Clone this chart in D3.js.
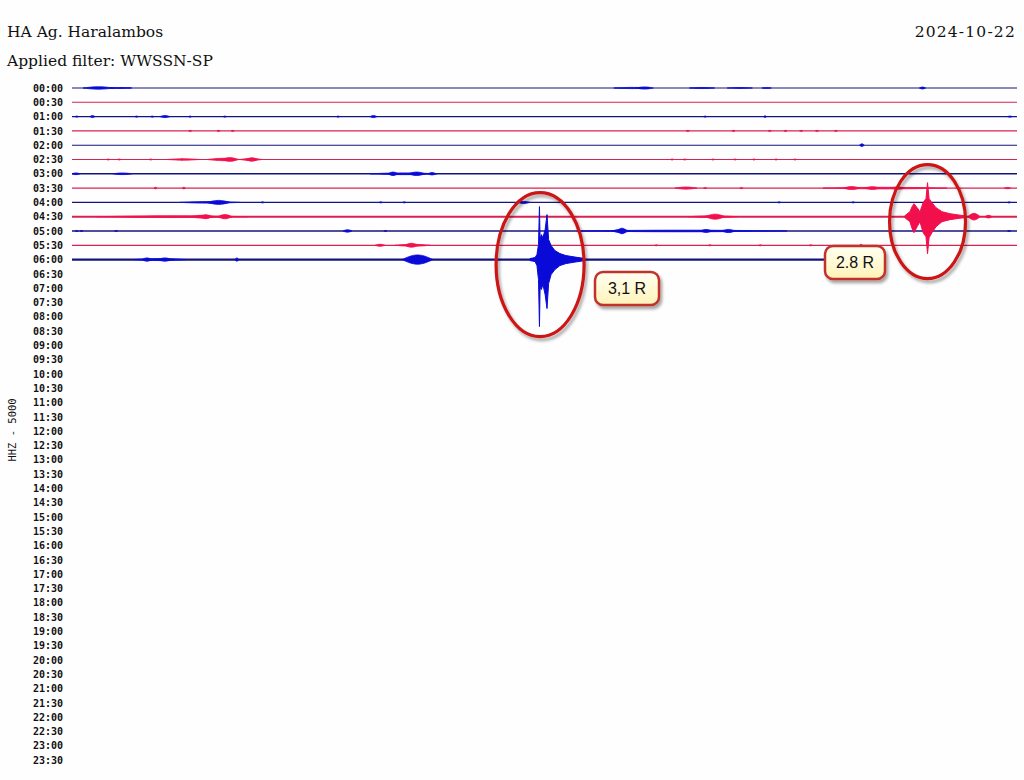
<!DOCTYPE html>
<html>
<head>
<meta charset="utf-8">
<script src="https://cdn.jsdelivr.net/npm/d3@7"></script>
<style>
    body { margin: 0; background: #ffffff; }
    svg { display: block; }
</style>
</head>
<body>
<div id="heli"></div>
<script>

// rows of the helicorder, 30 min each
var rowLabels = [];
for (var h = 0; h < 24; h++) {
    var hh = (h < 10 ? '0' : '') + h;
    rowLabels.push(hh + ':00');
    rowLabels.push(hh + ':30');
}

// recorded rows only (00:00 .. 06:00), minutes covered per row
var rowEnd = [30, 30, 30, 30, 30, 30, 30, 30, 30, 30, 30, 30, 25.5];
// background noise amplitude of each recorded row
var rowNoise = [0.1, 0.1, 0.2, 0.1, 0.1, 0.2, 0.6, 0.1, 0.2, 1.0, 0.4, 0.2, 1.2];

// bursts per row: [start minute, end minute, amplitude]
var bursts = [
    [[0.35, 1.33, 1.8], [1.2, 1.6, 0.8], [1.5, 1.75, 0.7], [1.7, 1.9, 0.7], [17.2, 18.35, 0.9], [17.9, 18.45, 1.6], [19.6, 20.4, 0.8], [20.8, 21.6, 0.7], [21.9, 22.2, 0.8], [26.9, 27.1, 1.5]],
    [],
    [[0.1, 0.2, 0.8], [0.57, 0.73, 1.5], [2.0, 2.1, 0.8], [2.5, 2.6, 0.8], [2.79, 3.11, 1.5], [3.7, 3.8, 0.8], [4.8, 4.9, 0.8], [8.4, 8.5, 0.8], [9.46, 9.68, 1.5], [20.05, 20.15, 0.8], [21.95, 22.05, 1.2], [29.7, 29.85, 0.8]],
    [[3.7, 3.8, 0.8], [4.6, 4.7, 0.8], [5.05, 5.15, 0.8], [19.5, 19.6, 0.8], [20.95, 21.05, 0.8], [22.1, 22.2, 0.8], [22.6, 22.7, 0.8], [23.1, 23.2, 0.8], [23.6, 23.7, 0.8], [24.2, 24.3, 0.8]],
    [[25.0, 25.15, 2.0]],
    [[1.1, 1.2, 0.8], [1.45, 1.55, 0.8], [2.45, 2.55, 0.8], [3.02, 4.06, 1.0], [3.45, 3.55, 0.8], [4.29, 5.33, 1.8], [4.76, 5.27, 2.8], [5.33, 6.03, 1.6], [5.52, 5.9, 2.6], [19.0, 19.1, 0.8], [19.4, 19.5, 0.8], [20.3, 20.4, 0.8], [21.0, 21.1, 0.8], [21.6, 21.7, 0.8], [22.3, 22.4, 0.8], [22.9, 23.0, 0.8]],
    [[0.0, 0.25, 1.3], [1.3, 1.9, 1.2], [9.46, 11.59, 1.3], [10.03, 10.35, 2.6], [10.67, 11.21, 2.6], [11.3, 11.56, 1.8]],
    [[2.6, 2.7, 1.2], [3.5, 3.6, 1.2], [19.14, 19.84, 1.6], [20.05, 20.15, 0.8], [21.2, 21.3, 0.8], [23.84, 27.78, 1.2], [24.48, 25.02, 2.2], [25.17, 25.65, 2.0], [25.97, 26.44, 1.6], [29.6, 29.8, 1.0]],
    [[3.43, 5.33, 1.2], [4.29, 5.02, 3.0], [6.0, 6.1, 0.8], [9.75, 9.85, 0.8], [10.5, 10.6, 0.8], [14.13, 14.54, 1.5], [22.4, 22.5, 0.8], [24.75, 24.85, 0.8], [29.7, 29.8, 0.8]],
    [[0.79, 5.56, 1.3], [3.75, 4.54, 2.2], [4.06, 4.44, 3.0], [4.63, 5.08, 3.2], [19.56, 21.11, 1.3], [20.1, 20.73, 3.8], [28.44, 28.83, 5.0], [28.98, 29.21, 2.0]],
    [[0.1, 0.2, 0.8], [0.25, 0.35, 0.8], [1.35, 1.45, 0.8], [8.6, 8.89, 1.8], [9.9, 10.0, 0.8], [16.03, 22.7, 1.2], [17.14, 17.71, 2.5], [17.3, 17.62, 4.2], [19.94, 20.32, 2.2], [20.63, 21.05, 2.4], [29.7, 29.8, 0.8]],
    [[9.62, 9.94, 1.5], [10.25, 11.37, 1.5], [10.57, 10.98, 3.0], [18.5, 18.6, 0.8], [20.2, 20.3, 0.8], [21.8, 21.9, 0.8], [23.4, 23.5, 0.8], [25.0, 25.1, 1.5]],
    [[1.94, 3.65, 1.5], [2.22, 2.54, 2.5], [2.73, 3.17, 2.5], [5.17, 5.3, 2.5], [10.48, 11.46, 7.0]]
];

// earthquake envelopes: [minute, up, down]
var quake31 = [
    [14.54, 1, 1], [14.70, 2, 2], [14.76, 5, 6], [14.81, 15, 20], [14.84, 53, 67], [14.86, 20, 28],
    [14.90, 25, 30], [14.95, 22, 25], [15.02, 30, 35], [15.08, 45, 49], [15.13, 20, 24], [15.21, 14, 15],
    [15.33, 9, 10], [15.49, 6, 6], [15.68, 4, 4], [15.97, 2.5, 2.5], [16.29, 1, 1]
];
var quake28 = [
    [26.44, 1, 1], [26.60, 5, 5], [26.67, 10, 12], [26.73, 13, 16], [26.83, 9, 10], [26.92, 5, 5],
    [27.02, 14, 16], [27.11, 18, 20], [27.16, 34, 37], [27.21, 18, 21], [27.30, 14, 16], [27.43, 9, 10],
    [27.62, 5, 5], [27.87, 3, 3], [28.19, 1.5, 1.5], [28.35, 1, 1]
];
var quakes = [
    {row: 12, env: quake31, label: '3,1 R'},
    {row: 9, env: quake28, label: '2.8 R'}
];

var width = 1024, height = 780;
var lineBlue = '#14147e', lineRed = '#d8224f';
var fillBlue = '#0a0ad8', fillRed = '#f2104c';

var svg = d3.select('#heli').append('svg').attr('width', width).attr('height', height);
svg.append('rect').attr('width', width).attr('height', height).attr('fill', '#fefefe');

var defs = svg.append('defs');
var shadow = defs.append('filter').attr('id', 'shadow').attr('x', '-30%').attr('y', '-30%').attr('width', '160%').attr('height', '160%');
shadow.append('feDropShadow').attr('dx', 2).attr('dy', 3).attr('stdDeviation', 1.6).attr('flood-color', '#000').attr('flood-opacity', 0.35);
var grad = defs.append('linearGradient').attr('id', 'boxfill').attr('x1', 0).attr('y1', 0).attr('x2', 0).attr('y2', 1);
grad.append('stop').attr('offset', '0%').attr('stop-color', '#fffff2');
grad.append('stop').attr('offset', '100%').attr('stop-color', '#fff3b8');

var x = d3.scaleLinear().domain([0, 30]).range([72, 1017]);
var y = d3.scalePoint().domain(rowLabels).range([88, 760]);
var amp = d3.scaleLinear().domain([0, 1]).range([0, 1]);

function rowColor(i) { return i % 2 == 0 ? lineBlue : lineRed; }
function rowFill(i) { return i % 2 == 0 ? fillBlue : fillRed; }

// header
svg.append('text').attr('x', 7).attr('y', 37).attr('font-family', 'DejaVu Serif').attr('font-size', 15.5).attr('fill', '#111').text('HA Ag. Haralambos');
svg.append('text').attr('x', 7).attr('y', 66).attr('font-family', 'DejaVu Serif').attr('font-size', 15.5).attr('fill', '#111').text('Applied filter: WWSSN-SP');
svg.append('text').attr('x', 1016).attr('y', 37).attr('text-anchor', 'end').attr('font-family', 'DejaVu Serif').attr('font-size', 15.5).attr('letter-spacing', 1.2).attr('fill', '#111').text('2024-10-22');

svg.append('text')
    .attr('transform', 'translate(16,430) rotate(-90)')
    .attr('text-anchor', 'middle')
    .attr('font-family', 'DejaVu Sans Mono').attr('font-size', 10.5).attr('fill', '#111')
    .text('HHZ - 5000');

// time labels
var axis = svg.append('g').attr('transform', 'translate(63,0)')
    .call(d3.axisLeft(y).tickSize(0).tickPadding(0));
axis.select('.domain').remove();
axis.selectAll('text').attr('font-family', 'DejaVu Sans Mono').attr('font-size', 10).attr('font-weight', 'bold').attr('fill', '#111');

var lens = d3.area().curve(d3.curveBasis)
    .x(function (d) { return x(d[0]); })
    .y0(function (d) { return d[2] + amp(d[1]); })
    .y1(function (d) { return d[2] - amp(d[1]); });

var env = d3.area()
    .x(function (d) { return x(d[0]); })
    .y0(function (d) { return d.base + amp(d[2]); })
    .y1(function (d) { return d.base - amp(d[1]); });

var traces = svg.append('g');
rowEnd.forEach(function (end, i) {
    var base = y(rowLabels[i]);
    var g = traces.append('g');
    g.append('line')
        .attr('x1', x(0)).attr('x2', x(end))
        .attr('y1', base).attr('y2', base)
        .attr('stroke', rowColor(i))
        .attr('stroke-width', 1 + rowNoise[i]);

    bursts[i].forEach(function (b) {
        var pts = [[b[0], 0, base], [(b[0] + b[1]) / 2, b[2], base], [b[1], 0, base]];
        g.append('path')
            .attr('d', lens(pts))
            .attr('fill', rowFill(i))
            .attr('stroke', rowFill(i))
            .attr('stroke-width', 0.8);
    });
});

quakes.forEach(function (q) {
    var base = y(rowLabels[q.row]);
    var pts = q.env.map(function (d) { var p = d.slice(); p.base = base; return p; });
    traces.append('path')
        .attr('d', env(pts))
        .attr('fill', rowFill(q.row))
        .attr('stroke', rowFill(q.row))
        .attr('stroke-width', 1);
});

// annotations
var notes = svg.append('g');
var e1 = quakes[0], e2 = quakes[1];
notes.append('ellipse')
    .attr('cx', x(14.86)).attr('cy', y(rowLabels[e1.row]) + 5)
    .attr('rx', 44).attr('ry', 72)
    .attr('fill', 'none').attr('stroke', '#cc1414').attr('stroke-width', 3.2)
    .attr('filter', 'url(#shadow)');
notes.append('ellipse')
    .attr('cx', x(27.16)).attr('cy', y(rowLabels[e2.row]) + 5)
    .attr('rx', 38).attr('ry', 57)
    .attr('fill', 'none').attr('stroke', '#cc1414').attr('stroke-width', 3.2)
    .attr('filter', 'url(#shadow)');

function tag(cx, cy, w, label) {
    var g = notes.append('g').attr('transform', 'translate(' + cx + ',' + cy + ')');
    g.append('rect')
        .attr('x', -w / 2).attr('y', -16).attr('width', w).attr('height', 33)
        .attr('rx', 8).attr('ry', 8)
        .attr('fill', 'url(#boxfill)').attr('stroke', '#c0322a').attr('stroke-width', 2.5)
        .attr('filter', 'url(#shadow)');
    g.append('text')
        .attr('y', 6).attr('text-anchor', 'middle')
        .attr('font-family', 'Liberation Sans, Arial, sans-serif').attr('font-size', 16)
        .attr('fill', '#111')
        .text(label);
}
tag(627, 288, 64, e1.label);
tag(855, 262, 60, e2.label);

</script>
</body>
</html>
